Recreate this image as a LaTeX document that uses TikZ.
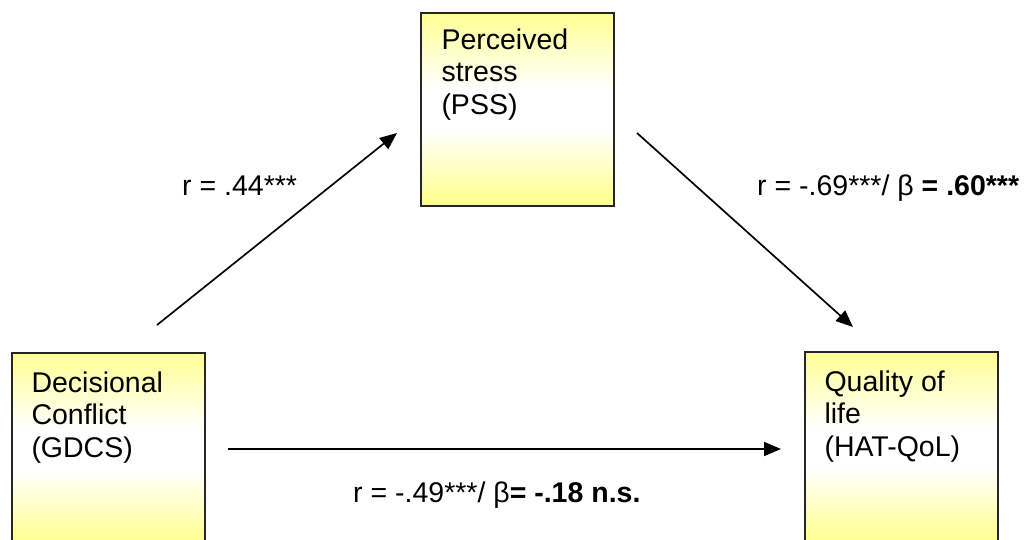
\documentclass[tikz,border=0pt]{standalone}
\usepackage{fontspec}
\setmainfont{Liberation Sans}
\usetikzlibrary{arrows.meta}
\pgfdeclareverticalshading{yboxshade}{100bp}{color(0bp)=(yellow!42); color(27bp)=(yellow!42); color(45bp)=(white); color(55bp)=(white); color(75bp)=(yellow!42); color(100bp)=(yellow!42)}
\tikzset{
  varbox/.style={draw=black!85, line width=1.4pt, rectangle, minimum width=193pt, minimum height=193pt, inner sep=0pt,
    shading=yboxshade},
  boxtext/.style={anchor=north west, align=left, inner sep=0pt, font=\fontsize{28.5}{32.7}\selectfont},
  lbl/.style={anchor=base west, inner sep=0pt, font=\fontsize{28.5}{32.7}\selectfont},
  arr/.style={line width=1.7pt, -{Triangle[length=17pt, width=14pt]}}
}
\begin{document}
\begin{tikzpicture}[x=1pt, y=-1pt]
\useasboundingbox (0,0) rectangle (1027,539);
\clip (0,0) rectangle (1027,539);
\fill[white] (0,0) rectangle (1027,539);
% boxes
\node[varbox] (pss) at (517.5,109.5) {};
\node[varbox] (gdcs) at (108.5,449.5) {};
\node[varbox] (qol) at (901.5,448.5) {};
% box texts
\node[boxtext] (psst) at ([xshift=21pt, yshift=-16pt]pss.north west) {Perceived\\stress\\(PSS)};
\node[boxtext] (gdcst) at ([xshift=20pt, yshift=-19pt]gdcs.north west) {Decisional\\Conflict\\(GDCS)};
\node[boxtext] (qolt) at ([xshift=20pt, yshift=-19pt]qol.north west) {Quality of\\life\\(HAT-QoL)};
% arrow ends
\coordinate (a1s) at (157,325);
\coordinate (a1e) at (397,133);
\coordinate (a2s) at (637,133);
\coordinate (a2e) at (853,327);
\coordinate (a3s) at (228,449);
\coordinate (a3e) at (781,449);
\draw[arr] (a1s) -- (a1e);
\draw[arr] (a2s) -- (a2e);
\draw[arr] (a3s) -- (a3e);
% labels
\node[lbl] (l1) at (182,195) {r = .44***};
\node[lbl] (l2) at (757,195) {r = -.69***/ β \textbf{= .60***}};
\node[lbl] (l3) at (353,502) {r = -.49***/ β\textbf{= -.18 n.s.}};
\end{tikzpicture}
\end{document}
